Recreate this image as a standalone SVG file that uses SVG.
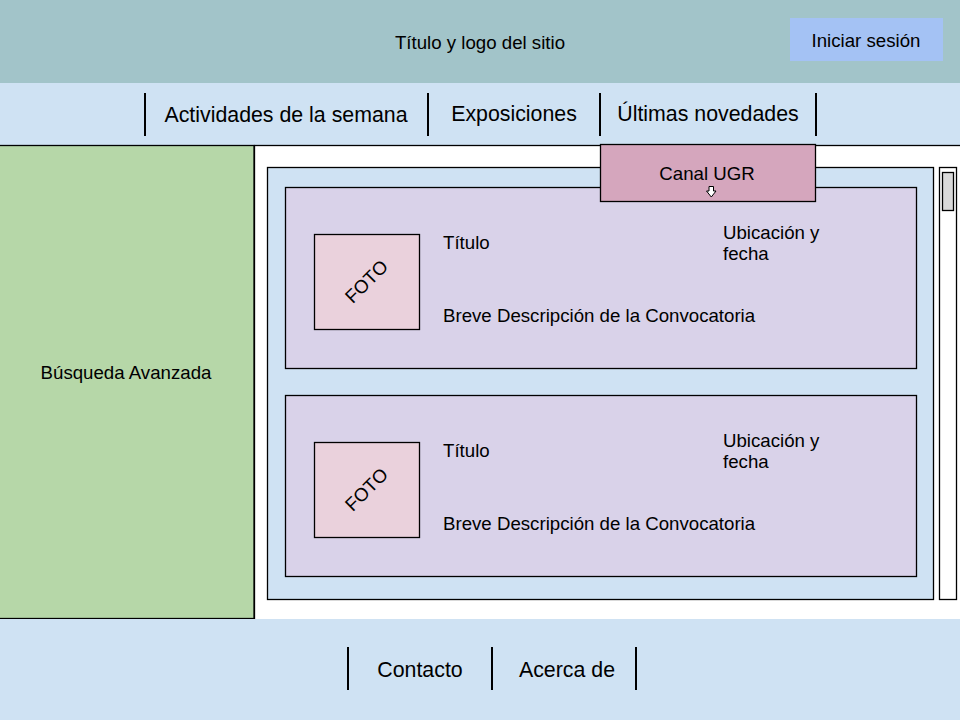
<svg xmlns="http://www.w3.org/2000/svg" width="960" height="720" viewBox="0 0 960 720">
<style>
text{font-family:"Liberation Sans",Arial,sans-serif;fill:#000}
.s{font-size:18.67px}
.m{font-size:21.33px}
.c{text-anchor:middle}
.b{stroke:#000;stroke-width:1.3}
.div{stroke:#000;stroke-width:2}
.card{fill:#d9d2e9;stroke:#000;stroke-width:1.3}
.foto{fill:#ead1dc;stroke:#000;stroke-width:1.3}
</style>
<rect width="960" height="720" fill="#fff"/>
<g id="header">
<rect x="0" y="0" width="960" height="83" fill="#a2c4c9"/>
<text class="s c" x="480" y="49">Título y logo del sitio</text>
</g>
<g id="login">
<rect x="790" y="18" width="153" height="43" fill="#a4c2f4"/>
<text class="s c" x="866" y="47">Iniciar sesión</text>
</g>
<g id="nav">
<rect x="0" y="83" width="960" height="62" fill="#cfe2f3"/>
<text class="m c" x="286" y="122">Actividades de la semana</text>
<text class="m c" x="514" y="121">Exposiciones</text>
<text class="m c" x="708" y="121">Últimas novedades</text>
</g>
<g id="main">
<rect x="254.5" y="145.5" width="710" height="480" fill="#fff" class="b"/>
</g>
<g id="busqueda">
<rect x="-1" y="145.5" width="255" height="473" fill="#b6d7a8" class="b"/>
<text class="s c" x="126" y="379">Búsqueda Avanzada</text>
</g>
<g id="contenedor">
<rect x="267.5" y="167.5" width="666" height="432" fill="#cfe2f3" class="b"/>
</g>
<g id="scrollbar">
<rect x="939.5" y="167.5" width="17" height="432" fill="#fff" class="b"/>
<rect x="942.5" y="172.5" width="11" height="38" fill="#d9d9d9" class="b"/>
</g>
<g id="card1">
<rect x="285.5" y="187.5" width="631" height="181" class="card"/>
<rect x="314.5" y="234.5" width="105" height="95" class="foto"/>
<text class="s c" x="0" y="0" transform="translate(371,286) rotate(-45)">FOTO</text>
<text class="s" x="443" y="249">Título</text>
<text class="s" x="723" y="239">Ubicación y</text>
<text class="s" x="723" y="260">fecha</text>
<text class="s" x="443" y="322">Breve Descripción de la Convocatoria</text>
</g>
<g id="card2">
<rect x="285.5" y="395.5" width="631" height="181" class="card"/>
<rect x="314.5" y="442.5" width="105" height="95" class="foto"/>
<text class="s c" x="0" y="0" transform="translate(371,494) rotate(-45)">FOTO</text>
<text class="s" x="443" y="457">Título</text>
<text class="s" x="723" y="447">Ubicación y</text>
<text class="s" x="723" y="468">fecha</text>
<text class="s" x="443" y="530">Breve Descripción de la Convocatoria</text>
</g>
<g id="canal">
<rect x="600.5" y="144.5" width="215" height="57" fill="#d5a6bd" class="b"/>
<text class="s c" x="707" y="180">Canal UGR</text>
<polygon points="709,186.5 713.5,186.5 713.5,191 716,191 711.3,197 706.5,191 709,191" fill="#fff" stroke="#000" stroke-width="1"/>
</g>
<g id="footer">
<rect x="0" y="619" width="960" height="101" fill="#cfe2f3"/>
<text class="m c" x="420" y="677">Contacto</text>
<text class="m c" x="567" y="677">Acerca de</text>
</g>
<g id="connectors">
<line class="div" x1="145" y1="93" x2="145" y2="136"/>
<line class="div" x1="428" y1="93" x2="428" y2="136"/>
<line class="div" x1="600" y1="93" x2="600" y2="136"/>
<line class="div" x1="816" y1="93" x2="816" y2="136"/>
<line class="div" x1="348" y1="647" x2="348" y2="690"/>
<line class="div" x1="492" y1="647" x2="492" y2="690"/>
<line class="div" x1="636" y1="647" x2="636" y2="690"/>
</g>
</svg>
